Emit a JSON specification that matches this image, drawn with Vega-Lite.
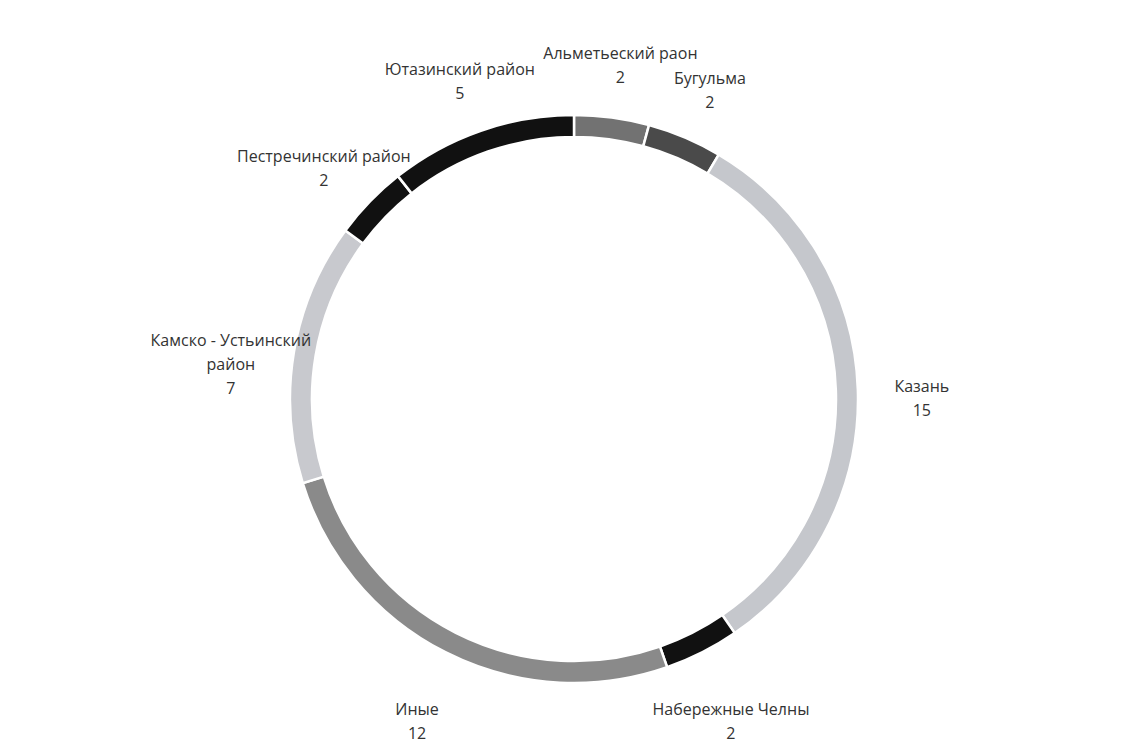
{
  "$schema": "https://vega.github.io/schema/vega-lite/v6.json",
  "autosize": {"type": "fit", "contains": "padding"},
  "width": 1148,
  "height": 748,
  "padding": {"top": 50, "bottom": 0, "left": 0, "right": 0},
  "background": "white",
  "view": {"stroke": null},
  "data": {
    "values": [
      {"order": 1, "name": "Альметьеский раон", "value": 2},
      {"order": 2, "name": "Бугульма", "value": 2},
      {"order": 3, "name": "Казань", "value": 15},
      {"order": 4, "name": "Набережные Челны", "value": 2},
      {"order": 5, "name": "Иные", "value": 12},
      {"order": 6, "name": "Камско - Устьинский|район", "value": 7},
      {"order": 7, "name": "Пестречинский район", "value": 2},
      {"order": 8, "name": "Ютазинский район", "value": 5}
    ]
  },
  "transform": [
    {"calculate": "datum.name + '|' + datum.value", "as": "label"}
  ],
  "encoding": {
    "theta": {"field": "value", "type": "quantitative", "stack": true},
    "order": {"field": "order", "type": "quantitative"}
  },
  "layer": [
    {
      "mark": {"type": "arc", "outerRadius": 284, "innerRadius": 262, "stroke": "white", "strokeWidth": 2.5},
      "encoding": {
        "color": {
          "field": "name",
          "type": "nominal",
          "legend": null,
          "scale": {
            "domain": ["Альметьеский раон", "Бугульма", "Казань", "Набережные Челны", "Иные", "Камско - Устьинский|район", "Пестречинский район", "Ютазинский район"],
            "range": ["#727272", "#4a4a4a", "#c5c7cc", "#111111", "#8a8a8a", "#c8c9ce", "#111111", "#111111"]
          }
        }
      }
    },
    {
      "mark": {"type": "text", "radius": 348, "font": "Open Sans", "fontSize": 16, "color": "#333333", "lineBreak": "|", "lineHeight": 24},
      "encoding": {
        "text": {"field": "label", "type": "nominal"}
      }
    }
  ]
}
